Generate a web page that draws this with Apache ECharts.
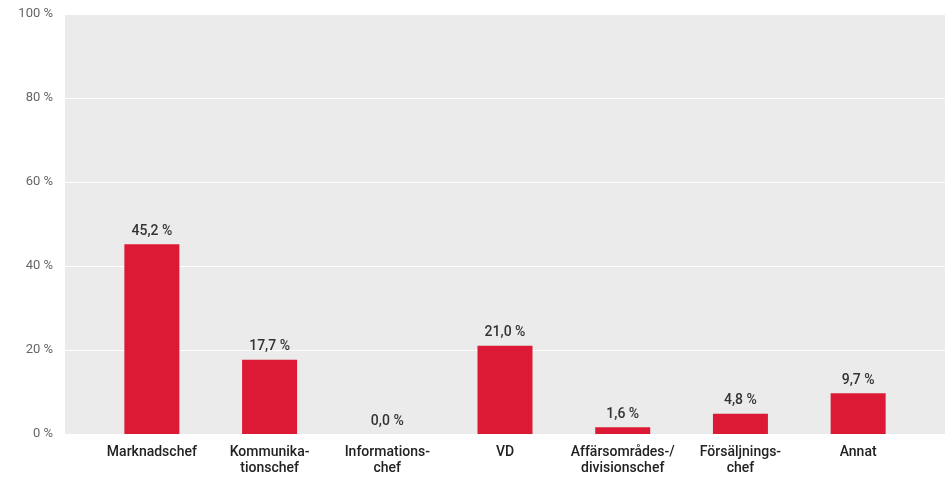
<!DOCTYPE html>
<html>
<head>
<meta charset="utf-8">
<script src="https://cdn.jsdelivr.net/npm/echarts@6/dist/echarts.min.js"></script>
<style>
html,body{margin:0;padding:0;background:#fff;}
#chart{width:948px;height:478px;}
</style>
</head>
<body>
<div id="chart"></div>
<script>
// Roles and share of respondents (%)
const categories = ['Marknadschef', 'Kommunika-\ntionschef', 'Informations-\nchef', 'VD', 'Affärsområdes-/\ndivisionschef', 'Försäljnings-\nchef', 'Annat'];
const values = [45.2, 17.7, 0.0, 21.0, 1.6, 4.8, 9.7];
const valueLabels = ['45,2 %', '17,7 %', '0,0 %', '21,0 %', '1,6 %', '4,8 %', '9,7 %'];
const yTicks = [0, 20, 40, 60, 80, 100];

const font = 'Roboto, "Liberation Sans", sans-serif';
const chart = echarts.init(document.getElementById('chart'));

chart.setOption({
  animation: false,
  grid: [
    { left: 65, right: 3, top: 14, bottom: 44, show: true, backgroundColor: '#ebebeb', borderWidth: 0 },
    { left: 93, right: 31, top: 14, bottom: 44 }
  ],
  xAxis: [
    { gridIndex: 0, type: 'category', data: [''], show: false },
    {
      gridIndex: 1, type: 'category', data: categories,
      axisLine: { show: false }, axisTick: { show: false },
      axisLabel: { color: '#222', fontFamily: font, fontSize: 14, fontWeight: 500, lineHeight: 16, margin: 10, interval: 0 }
    }
  ],
  yAxis: [
    {
      gridIndex: 0, type: 'value', min: 0, max: 100, interval: 20,
      axisLine: { show: false }, axisTick: { show: false },
      splitLine: { lineStyle: { color: '#ffffff', width: 1 } },
      axisLabel: {
        color: '#666', fontFamily: font, fontSize: 13, margin: 12,
        formatter: v => yTicks.includes(v) ? v + ' %' : ''
      }
    },
    { gridIndex: 1, type: 'value', min: 0, max: 100, show: false, splitLine: { show: false } }
  ],
  series: [{
    type: 'bar',
    xAxisIndex: 1, yAxisIndex: 1,
    data: values,
    barWidth: 55,
    itemStyle: { color: '#dc1a35' },
    label: {
      show: true, position: 'top', distance: 6,
      color: '#333', fontFamily: font, fontSize: 14, fontWeight: 500,
      formatter: p => valueLabels[p.dataIndex]
    }
  }]
});
</script>
</body>
</html>
